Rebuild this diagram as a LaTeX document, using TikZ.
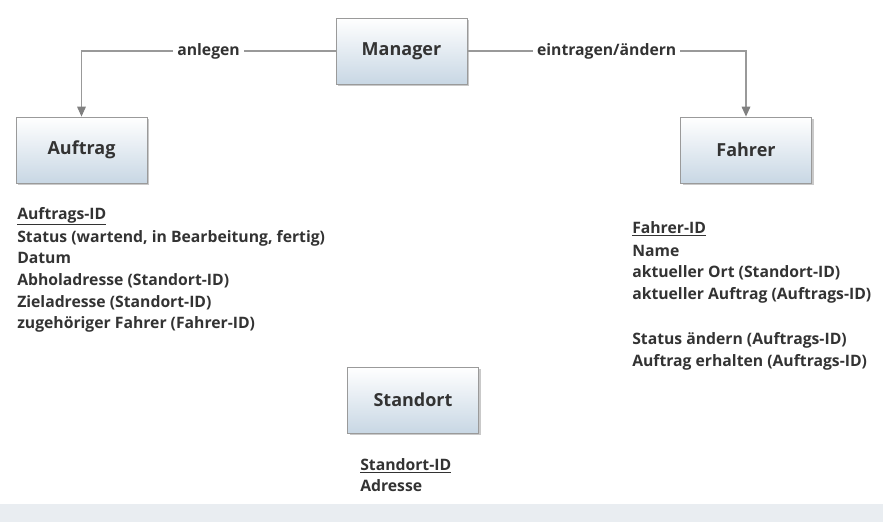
\documentclass[tikz,border=0pt]{standalone}
\usepackage{fontspec}
\setmainfont{Open Sans}
\usetikzlibrary{shadows,arrows.meta}
\definecolor{txt}{HTML}{333333}
\definecolor{ln}{HTML}{999999}
\definecolor{tip}{HTML}{808080}
\definecolor{boxline}{HTML}{9A9A9A}
\definecolor{boxbot}{HTML}{C8D7E4}
\definecolor{band}{HTML}{E9EDF1}
\tikzset{
  entity/.style={draw=boxline, line width=0.6pt, top color=white, bottom color=boxbot,
    minimum width=98.25pt, minimum height=49.5pt, inner sep=0pt,
    drop shadow={shadow xshift=1.6pt, shadow yshift=-1.6pt, opacity=0.3, fill=black!70},
    font=\bfseries\fontsize{13.5}{15}\selectfont, text=txt},
  conn/.style={draw=ln, line width=0.9pt, -{Triangle[length=7.5pt,width=6.5pt,color=tip]}},
  lbl/.style={fill=white, inner sep=3pt, font=\bfseries\fontsize{11.8}{13}\selectfont, text=txt},
  attr/.style={anchor=base west, inner sep=0pt, font=\bfseries\fontsize{11.8}{13}\selectfont, text=txt},
}
\newcommand{\ul}[1]{\underline{#1}}
\begin{document}
\begin{tikzpicture}[x=0.75pt,y=-0.75pt]
\useasboundingbox (0,0) rectangle (883,522);
\fill[band] (0,504) rectangle (883,522);

\node[entity] (man) at (401.5,51) {Manager};
\node[entity] (auf) at (81.5,150) {Auftrag};
\node[entity] (fah) at (746,150) {Fahrer};
\node[entity] (sto) at (413,400) {Standort};

\draw[conn] (man.west) -| node[lbl, pos=0.25] (l1) {anlegen} (auf.north);
\draw[conn] (man.east) -| node[lbl, pos=0.25] (l2) {eintragen/ändern} (fah.north);

\node[attr] (a1) at (17,219) {\ul{Auftrags-ID}};
\node[attr] (a2) at (17,242) {Status (wartend, in Bearbeitung, fertig)};
\node[attr] (a3) at (17,263) {Datum};
\node[attr] (a4) at (17,285) {Abholadresse (Standort-ID)};
\node[attr] (a5) at (17,307) {Zieladresse (Standort-ID)};
\node[attr] (a6) at (17,328) {zugehöriger Fahrer (Fahrer-ID)};

\node[attr] (f1) at (632,233) {\ul{Fahrer-ID}};
\node[attr] (f2) at (632,256) {Name};
\node[attr] (f3) at (632,277) {aktueller Ort (Standort-ID)};
\node[attr] (f4) at (632,299) {aktueller Auftrag (Auftrags-ID)};
\node[attr] (f5) at (632,344) {Status ändern (Auftrags-ID)};
\node[attr] (f6) at (632,366) {Auftrag erhalten (Auftrags-ID)};

\node[attr] (s1) at (360,470) {\ul{Standort-ID}};
\node[attr] (s2) at (360,491) {Adresse};
\end{tikzpicture}
\end{document}
